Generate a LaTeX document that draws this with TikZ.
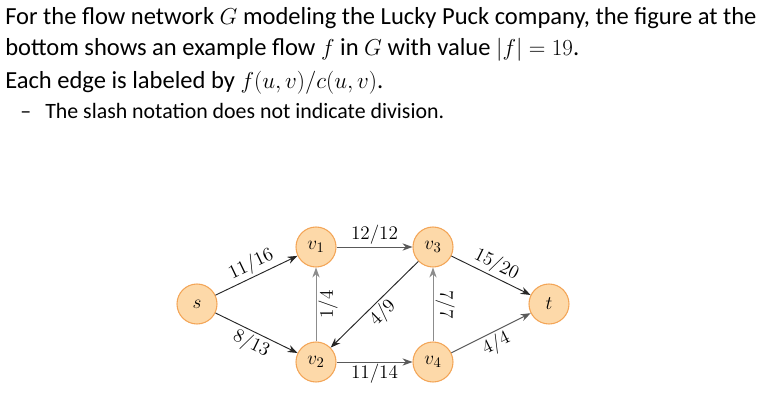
\documentclass[tikz,border=0pt]{standalone}
\usepackage[no-math]{fontspec}
\setmainfont{Carlito}
\usetikzlibrary{arrows.meta}
\definecolor{puckfill}{HTML}{FDD9A9}
\definecolor{puckline}{HTML}{F3A557}
\begin{document}
\begin{tikzpicture}[
		x=0.75pt, y=0.75pt,
		vertex/.style={circle,draw=puckline,fill=puckfill,line width=0.8pt,minimum size=30pt,inner sep=0pt,font=\fontsize{15}{15}\selectfont},
		flow/.style={-{Stealth[length=7.5pt,width=5.5pt]},line width=0.7pt,draw=black!85},
		mid/.style={flow,draw=black!65},
		lite/.style={flow,draw=black!45},
		lbl/.style={font=\fontsize{15.5}{15.5}\selectfont,inner sep=1.5pt},
		textline/.style={anchor=base west,inner sep=0pt,font=\fontsize{18.4}{22}\selectfont}
	]
	\useasboundingbox (0,0) rectangle (765,407);
	% text above the figure
	\node[textline] (l1) at (5,382) {For the flow network $G$ modeling the Lucky Puck company, the figure at the};
	\node[textline] (l2) at (5,351) {bottom shows an example flow $f$ in $G$ with value $|f|=19$.};
	\node[textline] (l3) at (5,318) {Each edge is labeled by $f(u,v)/c(u,v)$.};
	\node[textline,font=\fontsize{16.4}{20}\selectfont] (dash) at (20,288) {–};
	\node[textline,font=\fontsize{16.4}{20}\selectfont] (l4) at (45,288) {The slash notation does not indicate division.};
	% the flow network
	\node[vertex] (s) at (197,103) {$s$};
	\node[vertex] (v1) at (316,160) {$v_1$};
	\node[vertex] (v3) at (433,160) {$v_3$};
	\node[vertex] (t) at (549,103) {$t$};
	\node[vertex] (v2) at (316,45) {$v_2$};
	\node[vertex] (v4) at (433,45) {$v_4$};
	\draw[flow] (s) -- node[lbl,sloped,above] {$11/16$} (v1);
	\draw[flow] (s) -- node[lbl,sloped,below] {$8/13$} (v2);
	\draw[mid] (v1) -- node[lbl,above] {$12/12$} (v3);
	\draw[mid] (v2) -- node[lbl,below] {$11/14$} (v4);
	\draw[lite] (v2) -- node[lbl,sloped,below] {$1/4$} (v1);
	\draw[lite] (v4) -- node[lbl,rotate=-90,anchor=south] {$7/7$} (v3);
	\draw[flow] (v3) -- node[lbl,sloped,below] {$4/9$} (v2);
	\draw[flow] (v3) -- node[lbl,sloped,above] {$15/20$} (t);
	\draw[mid] (v4) -- node[lbl,sloped,below] {$4/4$} (t);
\end{tikzpicture}
\end{document}
